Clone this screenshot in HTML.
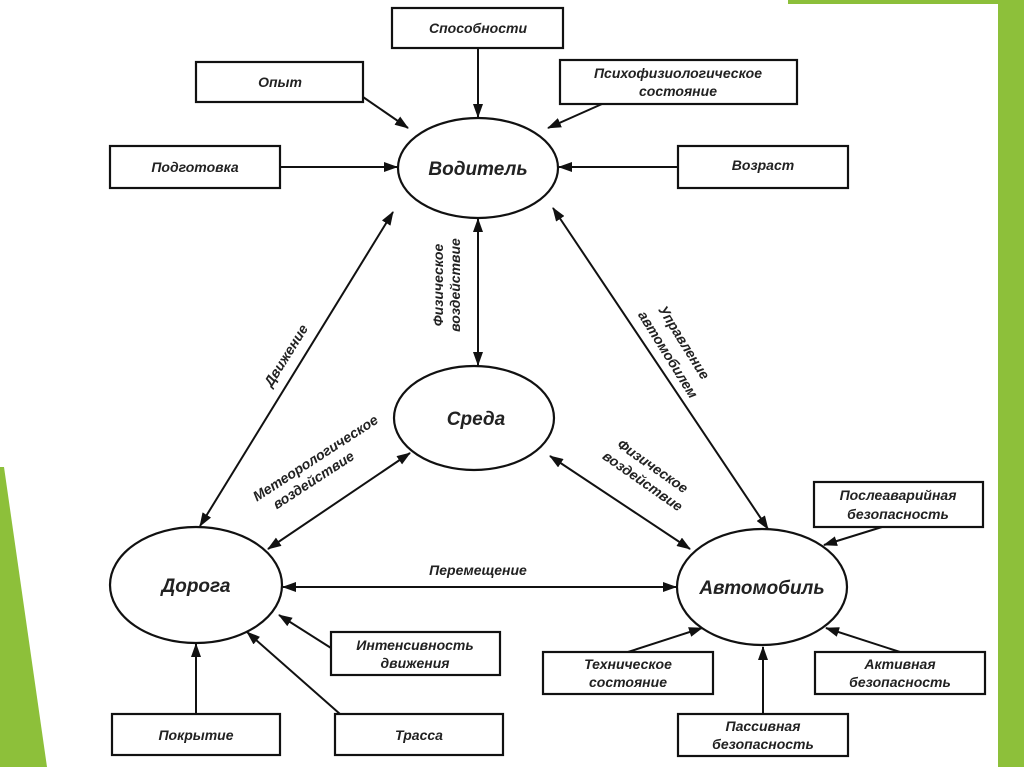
<!DOCTYPE html>
<html><head><meta charset="utf-8"><style>
html,body{margin:0;padding:0;background:#fff;}
svg{display:block;}
text{font-family:"Liberation Sans",sans-serif;font-weight:bold;font-style:italic;fill:#222;}
</style></head><body>
<svg width="1024" height="767" viewBox="0 0 1024 767" xmlns="http://www.w3.org/2000/svg">
<defs>
<marker id="a" markerWidth="10" markerHeight="8" refX="9" refY="4" orient="auto-start-reverse" markerUnits="userSpaceOnUse" viewBox="0 0 10 8">
<path d="M0,0 L10,4 L0,8 z" fill="#111"/></marker>
<marker id="b" markerWidth="14" markerHeight="10" refX="13" refY="5" orient="auto-start-reverse" markerUnits="userSpaceOnUse" viewBox="0 0 14 10">
<path d="M0,0 L14,5 L0,10 z" fill="#111"/></marker>
</defs>
<!-- green decorations -->
<rect x="788" y="0" width="212" height="4" fill="#8cbf3a"/>
<rect x="998" y="0" width="26" height="767" fill="#8dc03a"/>
<polygon points="0,467 4,467 47,767 0,767" fill="#8dc03a"/>

<g fill="none" stroke="#111" stroke-width="2.2">
<ellipse cx="478" cy="168" rx="80" ry="50"/>
<ellipse cx="474" cy="418" rx="80" ry="52"/>
<ellipse cx="196" cy="585" rx="86" ry="58"/>
<ellipse cx="762" cy="587" rx="85" ry="58"/>
<rect x="392" y="8" width="171" height="40"/>
<rect x="196" y="62" width="167" height="40"/>
<rect x="560" y="60" width="237" height="44"/>
<rect x="110" y="146" width="170" height="42"/>
<rect x="678" y="146" width="170" height="42"/>
<rect x="814" y="482" width="169" height="45"/>
<rect x="331" y="632" width="169" height="43"/>
<rect x="543" y="652" width="170" height="42"/>
<rect x="815" y="652" width="170" height="42"/>
<rect x="112" y="714" width="168" height="41"/>
<rect x="335" y="714" width="168" height="41"/>
<rect x="678" y="714" width="170" height="42"/>
</g>
<g stroke="#111" stroke-width="2" fill="none">
<line x1="478" y1="48" x2="478" y2="117" marker-end="url(#b)"/>
<line x1="363" y1="97" x2="408" y2="128" marker-end="url(#b)"/>
<line x1="602" y1="104" x2="548" y2="128" marker-end="url(#b)"/>
<line x1="280" y1="167" x2="397" y2="167" marker-end="url(#b)"/>
<line x1="678" y1="167" x2="559" y2="167" marker-end="url(#b)"/>
<line x1="478" y1="219" x2="478" y2="365" marker-start="url(#b)" marker-end="url(#b)"/>
<line x1="393" y1="212" x2="200" y2="526" marker-start="url(#b)" marker-end="url(#b)"/>
<line x1="553" y1="208" x2="768" y2="529" marker-start="url(#b)" marker-end="url(#b)"/>
<line x1="410" y1="453" x2="268" y2="549" marker-start="url(#b)" marker-end="url(#b)"/>
<line x1="550" y1="456" x2="690" y2="549" marker-start="url(#b)" marker-end="url(#b)"/>
<line x1="283" y1="587" x2="676" y2="587" marker-start="url(#b)" marker-end="url(#b)"/>
<line x1="882" y1="527" x2="824" y2="545" marker-end="url(#b)"/>
<line x1="331" y1="648" x2="279" y2="615" marker-end="url(#b)"/>
<line x1="340" y1="714" x2="247" y2="632" marker-end="url(#b)"/>
<line x1="196" y1="714" x2="196" y2="644" marker-end="url(#b)"/>
<line x1="628" y1="652" x2="702" y2="628" marker-end="url(#b)"/>
<line x1="900" y1="652" x2="826" y2="628" marker-end="url(#b)"/>
<line x1="763" y1="714" x2="763" y2="647" marker-end="url(#b)"/>
</g>

<g font-size="19" text-anchor="middle">
<text x="478" y="175">Водитель</text>
<text x="476" y="425">Среда</text>
<text x="196" y="592">Дорога</text>
<text x="762" y="594">Автомобиль</text>
</g>
<g font-size="14" text-anchor="middle">
<text x="478" y="33">Способности</text>
<text x="280" y="87">Опыт</text>
<text x="678" y="78">Психофизиологическое</text>
<text x="678" y="96">состояние</text>
<text x="195" y="172">Подготовка</text>
<text x="763" y="170">Возраст</text>
<text x="898" y="500">Послеаварийная</text>
<text x="898" y="519">безопасность</text>
<text x="415" y="650">Интенсивность</text>
<text x="415" y="668">движения</text>
<text x="628" y="669">Техническое</text>
<text x="628" y="687">состояние</text>
<text x="900" y="669">Активная</text>
<text x="900" y="687">безопасность</text>
<text x="196" y="740">Покрытие</text>
<text x="419" y="740">Трасса</text>
<text x="763" y="731">Пассивная</text>
<text x="763" y="749">безопасность</text>
<text x="478" y="575">Перемещение</text>
<text transform="translate(290,358) rotate(-58)">Движение</text>
<text transform="translate(443,285) rotate(-90)">Физическое</text>
<text transform="translate(460,285) rotate(-90)">воздействие</text>
<text transform="translate(680,345) rotate(58)">Управление</text>
<text transform="translate(664,357) rotate(58)">автомобилем</text>
<text transform="translate(318,462) rotate(-33)">Метеорологическое</text>
<text transform="translate(316,484) rotate(-33)">воздействие</text>
<text transform="translate(650,470) rotate(35)">Физическое</text>
<text transform="translate(640,485) rotate(35)">воздействие</text>
</g>
</svg>
</body></html>
